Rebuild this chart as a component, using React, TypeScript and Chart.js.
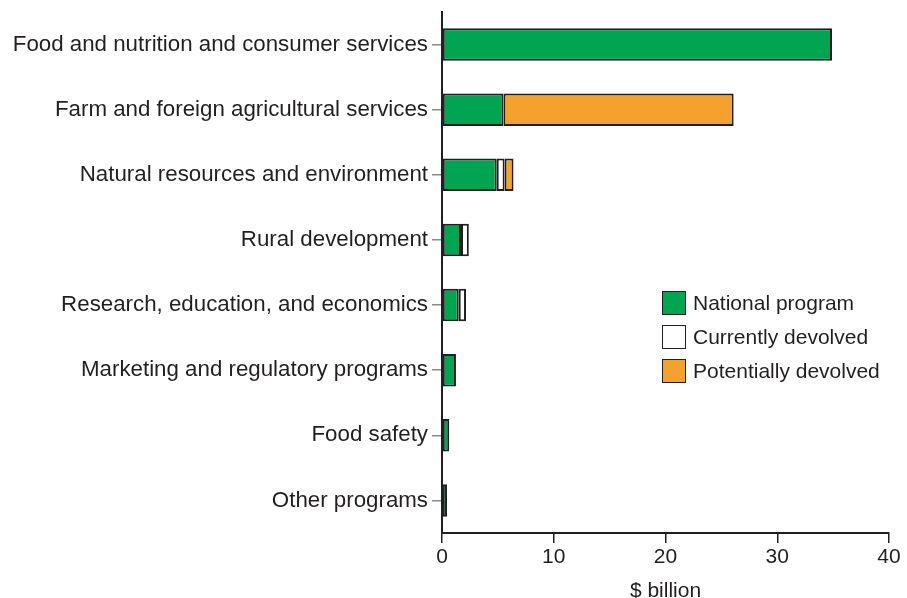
import React, { useEffect, useRef } from "react";
import { Chart, registerables } from "chart.js";

Chart.register(...registerables);

const categories = [
  "Food and nutrition and consumer services",
  "Farm and foreign agricultural services",
  "Natural resources and environment",
  "Rural development",
  "Research, education, and economics",
  "Marketing and regulatory programs",
  "Food safety",
  "Other programs",
];

const nationalProgram = [34.9, 5.5, 4.9, 1.7, 1.5, 1.25, 0.65, 0.45];
const currentlyDevolved = [null, null, 0.7, 0.7, 0.65, null, null, null];
const potentiallyDevolved = [null, 20.6, 0.8, null, null, null, null, null];

const seriesNames = ["National program", "Currently devolved", "Potentially devolved"];
const seriesColors = ["#00a551", "#ffffff", "#f4a12e"];

const xTicks = [0, 10, 20, 30, 40];
const xTitle = "$ billion";

const FONT = "'Liberation Sans', Arial, Helvetica, sans-serif";
const TEXT = "#231f20";

export default function App() {
  const ref = useRef<HTMLCanvasElement | null>(null);

  useEffect(() => {
    document.body.style.margin = "0";
    const canvas = ref.current;
    if (!canvas) return;
    const values = [nationalProgram, currentlyDevolved, potentiallyDevolved];
    const chart = new Chart(canvas, {
      type: "bar",
      data: {
        labels: categories,
        datasets: seriesNames.map((name, i) => ({
          label: name,
          data: values[i] as any,
          backgroundColor: seriesColors[i],
          borderColor: TEXT,
          borderWidth: 2,
          borderSkipped: false,
          categoryPercentage: 1,
          barPercentage: 0.5,
        })),
      },
      options: {
        indexAxis: "y",
        responsive: false,
        animation: false,
        maintainAspectRatio: false,
        layout: { padding: { top: 12, right: 18, bottom: 0, left: 0 } },
        plugins: {
          legend: { display: false },
          tooltip: { enabled: false },
        },
        scales: {
          x: {
            stacked: true,
            min: 0,
            max: 40,
            afterBuildTicks: (s: any) => {
              s.ticks = xTicks.map((v) => ({ value: v }));
            },
            afterFit: (s: any) => {
              s.height = 65;
            },
            grid: {
              drawOnChartArea: false,
              drawTicks: true,
              tickLength: 10,
              color: TEXT,
              lineWidth: 1.5,
            },
            border: { color: TEXT, width: 2 },
            ticks: {
              color: TEXT,
              font: { family: FONT, size: 21 },
              padding: 2,
              maxRotation: 0,
            },
            title: {
              display: true,
              text: xTitle,
              color: TEXT,
              font: { family: FONT, size: 21 },
              padding: { top: 2, bottom: -6 },
            },
          },
          y: {
            stacked: true,
            afterFit: (s: any) => {
              s.width = 442;
              s.paddingTop = 0;
              s.paddingBottom = 0;
            },
            grid: {
              offset: false,
              drawOnChartArea: false,
              drawTicks: true,
              tickLength: 10,
              color: "#8a8a8a",
              lineWidth: 1.5,
            },
            border: { color: TEXT, width: 2 },
            ticks: {
              color: TEXT,
              font: { family: FONT, size: 22.3 },
              padding: 4,
              autoSkip: false,
            },
          },
        },
      },
    });
    return () => chart.destroy();
  }, []);

  return (
    <div style={{ position: "relative", width: 907, height: 598 }}>
      <canvas ref={ref} width={907} height={598} style={{ display: "block" }} />
      <div
        style={{
          position: "absolute",
          left: 662,
          top: 286,
          fontFamily: FONT,
          fontSize: 21,
          color: TEXT,
        }}
      >
        {seriesNames.map((name, i) => (
          <div
            key={name}
            style={{ display: "flex", alignItems: "center", height: 34 }}
          >
            <span
              style={{
                display: "inline-block",
                width: 22,
                height: 22,
                background: seriesColors[i],
                border: `1.5px solid ${TEXT}`,
                marginRight: 7,
                flexShrink: 0,
              }}
            />
            <span style={{ whiteSpace: "nowrap" }}>{name}</span>
          </div>
        ))}
      </div>
    </div>
  );
}
